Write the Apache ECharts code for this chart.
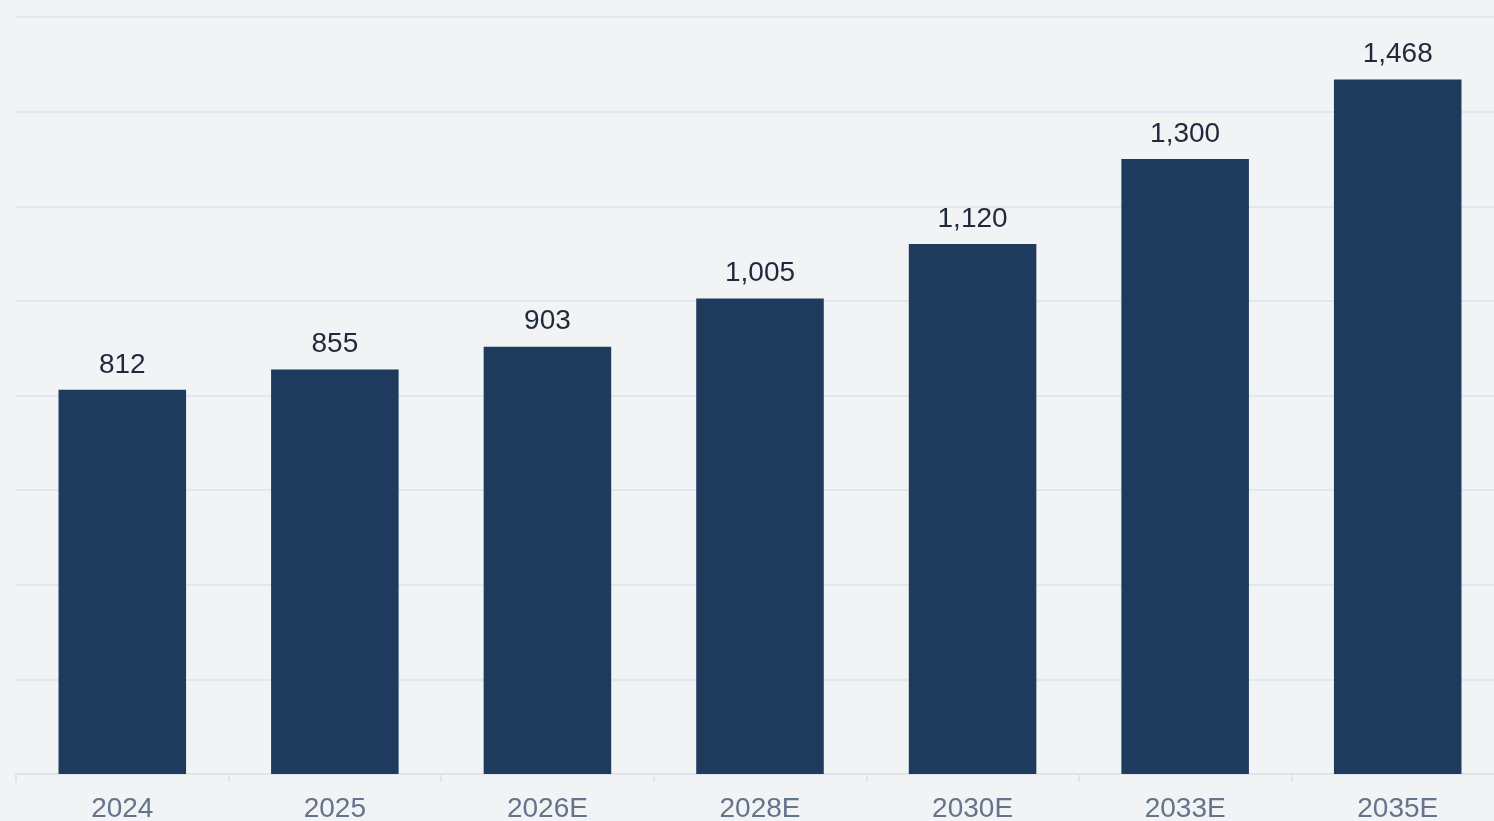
<!DOCTYPE html>
<html>
<head>
<meta charset="utf-8">
<script src="https://cdn.jsdelivr.net/npm/echarts@6/dist/echarts.min.js"></script>
<style>
html,body{margin:0;padding:0;background:#f2f3f5;overflow:hidden;}
#c{width:1494px;height:821px;}
</style>
</head>
<body>
<div id="c"></div>
<script>
var categories = ['2024','2025','2026E','2028E','2030E','2033E','2035E'];
var values = [812, 855, 903, 1005, 1120, 1300, 1468];
var chart = echarts.init(document.getElementById('c'));
chart.setOption({
  backgroundColor: '#f2f3f5',
  animation: false,
  grid: {left: 16, right: -10, top: 17, bottom: 47, containLabel: false, outerBoundsMode: 'none'},
  xAxis: {
    type: 'category',
    data: categories,
    axisLine: {lineStyle: {color: '#dfe5ee', width: 2}},
    axisTick: {show: true, length: 8, lineStyle: {color: '#dfe5ee', width: 2}},
    axisLabel: {color: '#64748b', fontSize: 28, fontFamily: 'Liberation Sans, Arial, sans-serif', margin: 21}
  },
  yAxis: {
    type: 'value',
    min: 0, max: 1600, interval: 200,
    axisLabel: {show: false},
    axisLine: {show: false},
    axisTick: {show: false},
    splitLine: {lineStyle: {color: '#e1e6f0', width: 2}}
  },
  series: [{
    type: 'bar',
    data: values,
    barWidth: '60%',
    itemStyle: {color: '#1e3a5c'},
    label: {
      show: true, position: 'top', distance: 11,
      color: '#1e293b', fontSize: 28, fontFamily: 'Liberation Sans, Arial, sans-serif',
      formatter: function(p){ return p.value.toLocaleString('en-US'); }
    }
  }]
});
</script>
</body>
</html>
